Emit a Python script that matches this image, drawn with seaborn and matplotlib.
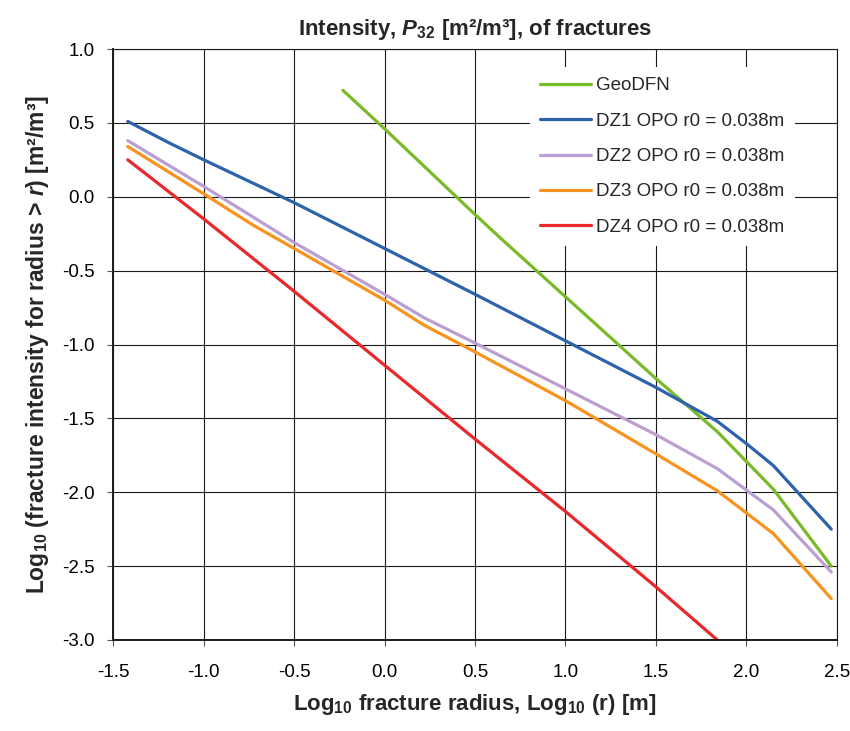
import numpy as np
import pandas as pd
import matplotlib
matplotlib.use('Agg')
import matplotlib.pyplot as plt
import seaborn as sns

# data
geo_x = [-0.23, 0.0, 0.5, 0.65, 1.5, 1.84, 2.15, 2.47]
geo_y = [0.72, 0.46, -0.12, -0.29, -1.23, -1.59, -1.98, -2.50]
dz1_x = [-1.42, -1.2, -1.0, -0.5, 0.0, 0.5, 1.5, 1.84, 2.0, 2.15, 2.47]
dz1_y = [0.51, 0.37, 0.25, -0.04, -0.35, -0.66, -1.29, -1.52, -1.67, -1.82, -2.25]
dz2_x = [-1.42, -1.0, -0.5, 0.0, 0.22, 0.5, 1.0, 1.5, 1.84, 2.15, 2.47]
dz2_y = [0.38, 0.07, -0.31, -0.66, -0.82, -0.99, -1.30, -1.61, -1.84, -2.12, -2.54]
dz3_x = [-1.42, -1.0, -0.73, -0.5, 0.0, 0.22, 0.5, 1.0, 1.5, 1.84, 2.15, 2.47]
dz3_y = [0.34, 0.02, -0.19, -0.35, -0.70, -0.87, -1.05, -1.38, -1.74, -1.99, -2.28, -2.72]
dz4_x = [-1.42, -1.0, -0.5, 0.0, 0.21, 0.5, 1.0, 1.5, 1.84]
dz4_y = [0.25, -0.15, -0.64, -1.14, -1.35, -1.64, -2.13, -2.64, -3.0]

names = ['GeoDFN', 'DZ1 OPO r0 = 0.038m', 'DZ2 OPO r0 = 0.038m',
         'DZ3 OPO r0 = 0.038m', 'DZ4 OPO r0 = 0.038m']
colors = ['#7ab929', '#2f62ad', '#bb9fd3', '#f7931e', '#e8282b']

frames = []
for name, xs, ys in zip(names, [geo_x, dz1_x, dz2_x, dz3_x, dz4_x],
                        [geo_y, dz1_y, dz2_y, dz3_y, dz4_y]):
    frames.append(pd.DataFrame({'x': xs, 'y': ys, 'series': name}))
df = pd.concat(frames, ignore_index=True)

sns.set_style('whitegrid')
plt.rcParams['font.family'] = ['Liberation Sans', 'DejaVu Sans']
plt.rcParams['mathtext.fontset'] = 'custom'
plt.rcParams['mathtext.rm'] = 'Liberation Sans'
plt.rcParams['mathtext.it'] = 'Liberation Sans:italic'
plt.rcParams['mathtext.bf'] = 'Liberation Sans:bold'
plt.rcParams['mathtext.bfit'] = 'Liberation Sans:italic:bold'

fig = plt.figure(figsize=(8.5, 7.31), dpi=100)
ax = fig.add_axes([113.3 / 850, 91 / 731, 723.4 / 850, 591 / 731])

sns.lineplot(data=df, x='x', y='y', hue='series', palette=colors, hue_order=names,
             sort=False, estimator=None, units='series', linewidth=2.3, ax=ax)

ax.set_xlim(-1.5, 2.5)
ax.set_ylim(-3.0, 1.0)
ax.set_xticks(np.arange(-1.5, 2.51, 0.5))
ax.set_yticks(np.arange(-3.0, 1.01, 0.5))
ax.set_xticklabels(['%.1f' % v for v in np.arange(-1.5, 2.51, 0.5)])
ax.set_yticklabels(['%.1f' % v for v in np.arange(-3.0, 1.01, 0.5)])
ax.grid(True, color='#1a1a1a', linewidth=0.8)
ax.set_facecolor('white')
for side in ['top', 'right']:
    ax.spines[side].set_color('#1a1a1a')
    ax.spines[side].set_linewidth(0.8)
for side in ['left', 'bottom']:
    ax.spines[side].set_color('#1a1a1a')
    ax.spines[side].set_linewidth(1.4)
ax.tick_params(axis='both', which='major', direction='out', length=4.5, width=0.8,
               color='#555555', labelsize=13.5, labelcolor='black',
               left=True, bottom=True)
ax.tick_params(axis='x', pad=13)
ax.tick_params(axis='y', pad=9)

ax.set_title('Intensity, $\\mathbfit{P}_{\\mathbf{32}}$ [m²/m³], of fractures',
             fontsize=16, fontweight='bold', pad=10)
ax.set_xlabel('Log$_{\\mathbf{10}}$ fracture radius, Log$_{\\mathbf{10}}$ ($\\mathbf{r}$) [m]',
              fontsize=16, fontweight='bold', labelpad=8)
ax.set_ylabel('Log$_{\\mathbf{10}}$ (fracture intensity for radius > $\\mathbfit{r}$) [m²/m³]',
              fontsize=16.5, fontweight='bold', labelpad=8)

leg = ax.legend(loc='upper left', bbox_to_anchor=(0.5755, 0.9695), borderaxespad=0,
                frameon=True, fontsize=13.5, handlelength=2.7, handletextpad=0.3,
                labelspacing=0.97, borderpad=0.55, fancybox=False)
leg.get_frame().set_facecolor('white')
leg.get_frame().set_edgecolor('none')
leg.get_frame().set_alpha(1)
for line in leg.get_lines():
    line.set_linewidth(2.3)

fig.savefig('out.png', dpi=100)
